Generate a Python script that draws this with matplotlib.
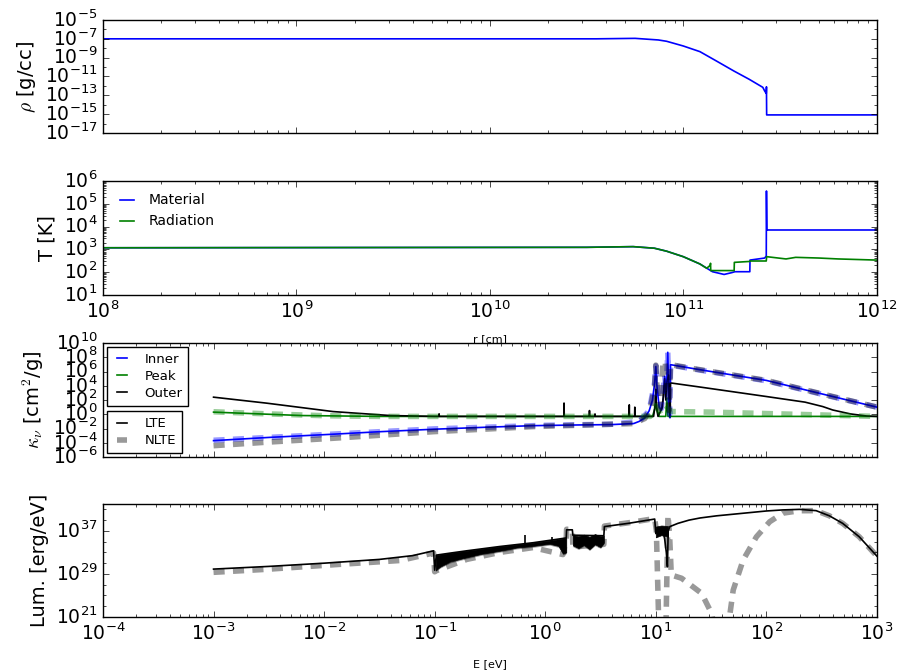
import numpy as np
import matplotlib
matplotlib.use("Agg")
import matplotlib.pyplot as plt
from matplotlib import ticker

# ---- density profile (log10 r [cm], log10 rho [g/cc]) ----
rho_r = [8.0, 10.55, 10.75, 10.87, 10.913, 10.999, 11.085, 11.17, 11.26, 11.34, 11.41, 11.42, 11.428, 11.429, 11.430, 12.0]
rho_v = [-7.0, -7.0, -6.95, -7.12, -7.26, -7.76, -8.36, -9.35, -10.41, -11.3, -12.15, -12.55, -12.8, -12.1, -15.08, -15.08]

# ---- temperatures (log10 r, log10 T) ----
tmat_r = [8.0, 10.5, 10.74, 10.85, 10.913, 10.999, 11.085, 11.15, 11.21, 11.25, 11.266, 11.343, 11.344, 11.42, 11.428, 11.429, 11.431, 12.0]
tmat_v = [3.07, 3.09, 3.12, 3.05, 2.92, 2.68, 2.36, 2.02, 1.90, 1.98, 2.02, 2.02, 2.53, 2.62, 2.71, 5.56, 3.85, 3.85]
trad_r = [8.0, 10.5, 10.74, 10.85, 10.913, 10.999, 11.085, 11.12, 11.138, 11.14, 11.141, 11.262, 11.263, 11.342, 11.344, 11.428, 11.43, 11.45, 11.53, 11.58, 11.7, 11.8, 12.0]
trad_v = [3.07, 3.09, 3.12, 3.05, 2.92, 2.68, 2.36, 2.17, 2.30, 2.39, 2.07, 2.07, 2.43, 2.47, 2.49, 2.49, 2.68, 2.66, 2.58, 2.65, 2.62, 2.58, 2.53]

# ---- opacities (log10 E [eV], log10 kappa [cm^2/g]) ----
inner_lte_e = [-3.0, -2.5, -1.92, -1.5, -1.01, -0.5, -0.11, 0.3, 0.6, 0.8, 0.85, 0.9, 0.94, 0.97, 0.99, 1.0, 1.01, 1.03, 1.05, 1.07, 1.08, 1.095, 1.108, 1.12, 1.128, 1.133, 1.40, 2.0, 2.6, 3.0]
inner_lte_k = [-3.7, -3.25, -2.8, -2.45, -2.1, -1.8, -1.6, -1.5, -1.45, -1.3, -1.0, -0.5, 0.5, 2.0, 4.5, 6.7, 4.0, 1.0, 0.6, 2.5, 5.3, 2.5, 8.7, 1.0, -0.5, 6.96, 6.25, 4.75, 2.49, 1.0]
inner_nlte_e = [-3.0, -2.0, -1.0, 0.0, 0.6, 0.85, 0.94, 0.99, 1.0, 1.02, 1.05, 1.08, 1.095, 1.108, 1.125, 1.133, 1.40, 2.0, 2.6, 3.0]
inner_nlte_k = [-3.65, -2.85, -2.05, -1.55, -1.4, -1.0, 0.5, 4.5, 6.8, 2.0, 0.8, 5.5, 3.0, 8.7, 0.0, 6.9, 6.2, 4.7, 2.45, 1.0]
peak_lte_e = [-3.0, -2.5, -2.2, -1.5, 0.97, 0.995, 1.0, 1.005, 1.03, 1.09, 1.10, 1.11, 1.125, 3.0]
peak_lte_k = [0.30, 0.0, -0.18, -0.3, -0.3, 1.0, 2.3, 1.0, -0.3, -0.3, 2.3, -0.3, -0.3, -0.3]
peak_nlte_e = [-3.0, -2.5, -2.0, -1.5, 0.95, 1.0, 1.05, 1.10, 1.15, 1.5, 2.0, 2.5, 3.0]
peak_nlte_k = [0.35, 0.05, -0.2, -0.3, -0.3, 1.2, -0.1, 0.8, 0.38, 0.3, 0.1, -0.1, -0.3]
outer_lte_e = [-3.0, -2.52, -1.92, -1.4, -1.0, -0.962, -0.96, -0.958, 0.168, 0.17, 0.172, 0.398, 0.40, 0.402,
               0.448, 0.45, 0.452, 0.758, 0.76, 0.762, 0.808, 0.81, 0.812, 0.98, 0.995, 1.0, 1.005, 1.02,
               1.06, 1.08, 1.09, 1.10, 1.115, 1.127, 1.133, 1.40, 2.0, 2.35, 2.51, 2.6, 2.76, 2.91, 3.0]
outer_lte_k = [2.4, 1.56, 0.38, -0.18, -0.3, -0.3, 0.06, -0.3, -0.3, 1.57, -0.3, -0.3, 0.52, -0.3,
               -0.3, 0.05, -0.3, -0.3, 1.32, -0.3, -0.3, 1.0, -0.3, -0.3, 1.5, 3.5, 1.0, -0.3,
               1.0, 5.0, 2.0, 4.5, 5.5, -0.3, 4.4, 3.82, 2.49, 1.7, 1.08, 0.6, 0.05, -0.25, -0.3]
outer_nlte_e = [-3.0, -2.5, -1.92, -1.5, -1.01, -0.5, -0.11, 0.5, 0.8, 0.9, 0.95, 0.99, 1.0, 1.01, 1.04, 1.065, 1.085, 1.10, 1.12, 1.133, 1.40, 2.0, 2.6, 3.0]
outer_nlte_k = [-4.41, -3.9, -3.37, -2.95, -2.44, -2.05, -1.73, -1.45, -1.3, -0.6, 0.8, 4.0, 6.9, 4.0, 0.8, 7.4, 7.4, 4.5, 0.5, 6.96, 6.25, 4.75, 2.49, 1.0]

# ---- luminosity (log10 E [eV], log10 L [erg/eV]) ----
lum_lte_e = [-3.0, -2.5, -2.0, -1.5, -1.2, -1.01, -1.0, -0.985, -0.85, -0.71, -0.41, -0.11, 0.16, 0.19,
             0.193, 0.245, 0.25, 0.53, 0.535, 0.75, 0.99, 1.0, 1.02, 1.04, 1.06, 1.08, 1.095, 1.105, 1.112,
             1.127, 1.2, 1.3, 1.4, 1.55, 1.7, 1.85, 2.0, 2.15, 2.30, 2.45, 2.57, 2.69, 2.84, 3.0]
lum_lte_v = [29.9, 30.4, 31.0, 31.7, 32.4, 33.3, 29.7, 32.5, 32.9, 33.3, 34.1, 34.8, 35.6, 35.7,
             37.2, 37.2, 36.2, 36.1, 37.8, 38.4, 39.2, 36.5, 37.6, 36.2, 37.5, 35.5, 33.0, 30.35, 37.0,
             37.8, 38.4, 39.0, 39.4, 39.8, 40.1, 40.4, 40.7, 40.9, 41.0, 40.76, 39.8, 38.4, 35.9, 32.3]
lum_nlte_e = [-3.0, -2.52, -1.92, -1.31, -1.01, -1.0, -0.985, -0.71, -0.41, -0.11, 0.16, 0.19, 0.193, 0.245, 0.25,
              0.53, 0.535, 0.75, 0.99, 1.005, 1.03, 1.09, 1.11, 1.125, 1.14, 1.233, 1.414, 1.504, 1.55, 1.64,
              1.70, 1.79, 1.91, 2.03, 2.15, 2.30, 2.45, 2.57, 2.69, 2.84, 3.0]
lum_nlte_v = [29.3, 29.86, 30.7, 31.5, 32.9, 29.4, 29.6, 31.7, 33.0, 33.9, 32.6, 35.5, 37.3, 37.3, 34.0,
              34.5, 37.9, 38.5, 39.3, 37.0, 17.0, 17.0, 40.0, 36.0, 28.8, 28.2, 25.4, 21.7, 17.0, 17.0,
              26.0, 31.6, 35.9, 38.7, 40.3, 40.75, 40.76, 39.8, 38.4, 35.9, 32.3]
# dense line forests drawn as envelopes
band1_e = [-0.99, -0.95, -0.86, -0.71, -0.56, -0.41, -0.26, -0.11, 0.04, 0.12, 0.16, 0.19]
band1_hi = [32.5, 32.6, 32.9, 33.3, 33.7, 34.1, 34.45, 34.8, 35.2, 35.45, 35.6, 35.7]
band1_lo = [29.7, 30.35, 31.3, 32.1, 32.8, 33.3, 33.9, 34.2, 34.6, 34.2, 32.8, 33.0]
band2_e = [0.25, 0.30, 0.35, 0.40, 0.45, 0.50, 0.53]
band2_hi = [36.2, 36.0, 36.3, 35.9, 36.4, 36.0, 36.1]
band2_lo = [34.3, 33.8, 34.4, 33.6, 34.5, 34.0, 34.8]
band3_e = [1.0, 1.05, 1.11]
band3_hi = [37.8, 38.0, 37.9]
band3_lo = [35.8, 36.2, 35.9]
spike_e = [-0.18, 0.06]
spike_top = [36.2, 35.8]
spike_base = [34.4, 35.2]


def p(a):
    return 10.0 ** np.asarray(a)


def decades(lo, hi):
    return [10.0 ** k for k in range(lo, hi + 1)]


def minors(lo, hi):
    return [m * 10.0 ** k for k in range(lo, hi) for m in range(2, 10)]


def sci(val, pos):
    return r'$\mathdefault{10^{%d}}$' % int(round(np.log10(val)))


def setup_x(ax, lo, hi, labels=True):
    ax.set_xscale('log')
    ax.set_xlim(10.0 ** lo, 10.0 ** hi)
    ax.xaxis.set_major_locator(ticker.FixedLocator(decades(lo, hi)))
    ax.xaxis.set_minor_locator(ticker.FixedLocator(minors(lo, hi)))
    ax.xaxis.set_minor_formatter(ticker.NullFormatter())
    if labels:
        ax.xaxis.set_major_formatter(ticker.FuncFormatter(sci))
    else:
        ax.xaxis.set_major_formatter(ticker.NullFormatter())


def setup_y(ax, lo, hi, major, minor):
    ax.set_yscale('log')
    ax.set_ylim(10.0 ** lo, 10.0 ** hi)
    ax.yaxis.set_major_locator(ticker.FixedLocator([10.0 ** k for k in major]))
    ax.yaxis.set_minor_locator(ticker.FixedLocator(minor))
    ax.yaxis.set_major_formatter(ticker.FuncFormatter(sci))
    ax.yaxis.set_minor_formatter(ticker.NullFormatter())


plt.style.use('classic')
plt.rcParams.update({
    'figure.facecolor': 'white',
    'savefig.facecolor': 'white',
    'xtick.labelsize': 13.5,
    'ytick.labelsize': 13.5,
    'axes.labelsize': 14,
})

fig = plt.figure(figsize=(9.01, 6.71), dpi=100)
L, W = 0.1143, 0.859
ax1 = fig.add_axes([L, 0.8018, W, 0.1684])
ax2 = fig.add_axes([L, 0.5604, W, 0.1699])
ax3 = fig.add_axes([L, 0.3189, W, 0.1699])
ax4 = fig.add_axes([L, 0.0805, W, 0.1684])

nl = dict(lw=4, alpha=0.4, dashes=(8, 6), dash_capstyle='butt')
leg_kw = dict(fontsize=9.5, handlelength=1.4, handletextpad=1.0, labelspacing=0.3,
              borderpad=0.45, fancybox=False, borderaxespad=0.3)

# density
ax1.plot(p(rho_r), p(rho_v), color='b', lw=1.2)
setup_x(ax1, 8, 12, labels=False)
setup_y(ax1, -17, -5, range(-17, -4, 2), [10.0 ** k for k in range(-16, -5, 2)])
ax1.set_ylabel(r'$\rho$ [g/cc]')

# temperature
ax2.plot(p(tmat_r), p(tmat_v), color='b', lw=1.2, label='Material')
ax2.plot(p(trad_r), p(trad_v), color='g', lw=1.2, label='Radiation')
setup_x(ax2, 8, 12)
setup_y(ax2, 1, 6, range(1, 7), minors(1, 6))
ax2.set_ylabel('T [K]')
ax2.set_xlabel('r [cm]', fontsize=8, labelpad=9)
ax2.legend(loc='upper left', frameon=False, fontsize=10, handlelength=1.6)

# opacity
h_in, = ax3.plot(p(inner_lte_e), p(inner_lte_k), color='b', lw=1.2, label='Inner')
h_pk, = ax3.plot(p(peak_lte_e), p(peak_lte_k), color='g', lw=1.2, label='Peak')
h_out, = ax3.plot(p(outer_lte_e), p(outer_lte_k), color='k', lw=1.2, label='Outer')
ax3.plot(p(inner_nlte_e), p(inner_nlte_k), color='b', **nl)
ax3.plot(p(peak_nlte_e), p(peak_nlte_k), color='g', **nl)
ax3.plot(p(outer_nlte_e), p(outer_nlte_k), color='k', **nl)
setup_x(ax3, -4, 3, labels=False)
setup_y(ax3, -6, 10, range(-6, 11, 2), [])
ax3.set_ylabel(r'$\kappa_\nu$ [cm$^2$/g]')
leg1 = ax3.legend(handles=[h_in, h_pk, h_out], loc='upper left', **leg_kw)
ax3.add_artist(leg1)
lte_h, = ax3.plot([], [], color='k', lw=1.2, label='LTE')
nlte_h, = ax3.plot([], [], color='k', label='NLTE', **nl)
ax3.legend(handles=[lte_h, nlte_h], loc='lower left', **leg_kw)

# luminosity
ax4.fill_between(p(band1_e), p(np.asarray(band1_lo) - 0.25), p(band1_hi), color='k', alpha=0.4, lw=0)
ax4.fill_between(p(band2_e), p(np.asarray(band2_lo) - 0.25), p(band2_hi), color='k', alpha=0.4, lw=0)
ax4.plot(p(lum_nlte_e), p(lum_nlte_v), color='k', **nl)
ax4.fill_between(p(band1_e), p(band1_lo), p(band1_hi), color='k', lw=0.5)
ax4.fill_between(p(band2_e), p(band2_lo), p(band2_hi), color='k', lw=0.5)
ax4.fill_between(p(band3_e), p(band3_lo), p(band3_hi), color='k', lw=0.5)
ax4.vlines(p(spike_e), p(spike_base), p(spike_top), color='k', lw=1.2)
ax4.plot(p(lum_lte_e), p(lum_lte_v), color='k', lw=1.2)
setup_x(ax4, -4, 3)
setup_y(ax4, 21, 42, [21, 29, 37], [10.0 ** k for k in range(23, 42, 2) if k not in (29, 37)])
ax4.set_ylabel('Lum. [erg/eV]')
ax4.set_xlabel('E [eV]', fontsize=8, labelpad=11)

fig.savefig('out.png', dpi=100)
